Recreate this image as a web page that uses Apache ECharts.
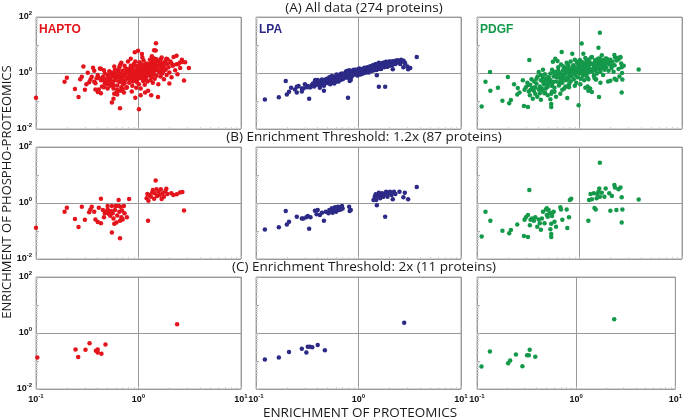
<!DOCTYPE html>
<html><head><meta charset="utf-8">
<script src="https://cdn.jsdelivr.net/npm/echarts@6/dist/echarts.min.js"></script>
<style>html,body{margin:0;padding:0;background:#fff}#c{width:685px;height:420px}</style>
</head><body><div id="c"></div>
<script>
const conditions = ['HAPTO', 'LPA', 'PDGF'];
const rowTitles = ['(A) All data (274 proteins)', '(B) Enrichment Threshold: 1.2x (87 proteins)', '(C) Enrichment Threshold: 2x (11 proteins)'];
const yAxisTitle = 'ENRICHMENT OF PHOSPHO-PROTEOMICS';
const xAxisTitle = 'ENRICHMENT OF PROTEOMICS';
const xTickExps = [-1, 0, 1];
const yTickExps = [-2, 0, 2];

// ---- HAPTO ----
const haptoB = [[0.10,0.13],[0.19,0.49],[0.20,0.68],[0.24,0.27],[0.26,0.14],[0.28,0.74],[0.30,0.25],[0.33,0.47],[0.34,0.59],[0.35,0.74],
[0.37,0.49],[0.38,0.26],[0.40,0.21],[0.41,0.68],[0.43,1.41],[0.43,0.19],[0.45,0.56],[0.46,0.31],[0.47,0.43],[0.49,0.49],
[0.50,0.78],[0.50,0.59],[0.51,0.41],[0.52,0.49],[0.53,0.35],[0.54,0.52],[0.55,0.089],[0.55,0.78],[0.56,0.43],[0.57,0.28],
[0.58,0.18],[0.59,0.56],[0.60,0.78],[0.61,0.20],[0.62,0.36],[0.64,0.78],[0.64,1.28],[0.65,0.49],[0.66,0.23],[0.66,0.055],
[0.67,0.74],[0.68,0.31],[0.69,0.54],[0.70,0.26],[0.72,0.78],[0.73,0.43],[0.77,0.31],[0.81,1.38],
[1.20,1.47],[1.22,2.1],[1.24,0.23],[1.25,1.2],[1.28,1.88],[1.32,1.68],[1.36,2.35],[1.38,2.9],[1.42,1.41],[1.44,2.24],
[1.47,6.3],[1.50,3.1],[1.52,1.78],[1.57,2.5],[1.61,1.94],[1.65,3.1],[1.68,1.38],[1.72,2.24],[1.77,1.68],[1.83,2.7],
[1.87,3.2],[1.91,2.1],[2.09,2.24],[2.19,1.94],[2.36,2.05],[2.54,2.35],[2.68,2.46],[2.78,0.54]];
const haptoExtra = [[0.29,1.70],[0.32,1.02],[0.27,0.60],[0.31,0.40],
[0.36,1.55],[0.37,1.20],[0.39,0.65],[0.41,0.26],[0.42,1.45],[0.38,0.43],[0.45,0.74],[0.44,0.33],[0.47,0.95],[0.48,0.60],[0.46,1.25],[0.49,0.40],[0.43,0.55],[0.50,0.28],[0.40,0.85],
[0.51,0.88],[0.52,1.15],[0.53,0.62],[0.54,0.45],[0.55,1.05],[0.56,0.75],[0.57,0.35],[0.58,0.95],[0.59,1.30],[0.60,0.55],
[0.61,0.82],[0.62,0.25],[0.63,1.10],[0.64,0.68],[0.65,1.60],[0.66,0.48],[0.67,0.92],[0.68,2.30],[0.69,0.60],[0.70,1.20],
[0.71,0.40],[0.72,0.85],[0.73,1.80],[0.74,0.55],[0.75,1.00],[0.76,0.30],[0.77,1.40],[0.78,0.70],[0.79,2.60],[0.80,0.95],
[0.57,0.12],[0.62,0.17],[0.72,0.20],[0.66,1.95],[0.58,1.70],
[0.81,0.45],[0.82,1.25],[0.83,0.72],[0.84,3.20],[0.85,0.58],[0.86,1.05],[0.87,0.35],[0.88,1.55],[0.89,0.85],[0.90,2.10],
[0.91,0.62],[0.92,1.15],[0.93,0.13],[0.94,0.95],[0.95,1.80],[0.96,0.48],[0.97,1.35],[0.98,0.75],[0.99,6.20],[1.00,1.00],
[1.01,0.40],[1.02,2.40],[1.03,0.88],[1.04,1.50],[1.05,0.28],[1.06,1.20],[1.07,0.65],[1.08,4.80],[1.09,1.70],[1.10,0.92],
[1.11,0.52],[1.12,2.80],[1.13,1.30],[1.14,0.78],[1.15,1.95],[1.16,0.20],[1.17,1.10],[1.18,0.60],[1.19,2.20],[1.20,1.40],
[1.01,0.051],[1.05,0.16],[0.86,0.22],[1.15,0.38],[0.95,0.30],[1.09,3.60],[0.92,5.50],[1.03,1.75],[0.88,0.98],[1.18,1.00],
[0.97,0.55],[1.12,0.70],[0.84,1.80],[1.06,2.10],[0.99,1.25],
[1.27,0.85],[1.28,1.60],[1.29,3.00],[1.30,1.10],[1.31,0.55],[1.32,2.00],[1.33,1.30],[1.34,0.70],[1.35,4.00],[1.36,1.00],
[1.37,2.50],[1.38,0.45],[1.39,1.45],[1.40,1.85],[1.41,0.90],[1.42,3.30],[1.43,1.20],[1.44,0.62],[1.45,2.20],[1.46,1.55],
[1.48,11.5],[1.50,0.80],[1.52,1.25],[1.54,2.70],[1.56,0.40],[1.58,1.70],[1.60,1.05],[1.62,2.40],[1.64,0.75],[1.66,1.40],
[1.68,3.60],[1.70,0.95],[1.72,1.90],[1.75,1.15],[1.77,0.60],[1.33,0.16],[1.55,0.14],[1.42,6.50],
[1.80,2.30],[1.84,1.30],[1.88,0.85],[1.92,3.10],[1.96,1.60],[2.00,1.05],[2.05,2.60],[2.10,0.70],[2.15,1.80],[2.20,3.70],
[2.28,1.25],[2.35,4.10],[2.45,2.10],[2.55,1.50],[2.65,3.00],[2.85,2.40],[3.10,1.50],[2.40,0.90],[2.00,0.42],
[0.70,0.78],[0.75,1.45],[0.80,0.62],[0.85,1.30],[0.90,0.80],[0.95,1.15],[1.00,0.66],[1.05,1.45],[1.10,1.10],[1.15,1.60],
[1.20,0.75],[1.25,1.20],[1.30,1.65],[1.35,0.85],[1.40,1.25],[0.78,1.05],[0.88,0.50],[0.98,1.60],[1.08,0.85],[1.18,1.30],
[1.28,2.10],[1.38,1.60],[0.68,0.95],[0.93,2.60],[1.22,0.50],[1.02,1.05],[1.12,1.85],[0.83,0.90]];
const haptoC = [[0.103,0.132],[0.243,0.26],[0.258,0.138],[0.304,0.25],[0.333,0.43],[0.384,0.23],[0.40,0.26],[0.40,0.20],[0.435,0.18],[0.476,0.39],[2.38,2.04]];

// ---- LPA ----
const lpaB = [[0.122,0.112],[0.167,0.135],[0.195,0.52],[0.20,0.17],[0.21,0.215],[0.25,0.325],[0.28,0.28],[0.29,0.28],[0.31,0.31],[0.32,0.34],
[0.33,0.12],[0.34,0.31],[0.376,0.53],[0.39,0.40],[0.40,0.56],[0.42,0.37],[0.44,0.45],[0.46,0.23],[0.48,0.49],[0.51,0.43],
[0.52,0.56],[0.54,0.52],[0.55,0.65],[0.56,0.45],[0.58,0.56],[0.59,0.70],[0.605,0.49],[0.615,0.63],[0.63,0.74],[0.645,0.56],
[0.66,0.70],[0.67,0.59],[0.69,0.78],[0.70,0.63],[0.81,0.74],[0.82,0.52],[0.84,0.56],
[1.40,1.28],[1.44,1.68],[1.47,2.04],[1.49,1.28],[1.51,0.83],[1.55,1.78],[1.58,2.34],[1.63,1.47],[1.66,1.93],[1.70,2.21],
[1.75,1.68],[1.80,2.04],[1.82,0.32],[1.86,2.54],[1.92,1.68],[1.97,2.21],[2.03,2.54],[2.10,1.93],[2.16,1.35],[2.22,2.54],
[2.29,2.1],[2.51,2.54],[2.74,1.59],[2.83,2.34],[3.05,1.35],[3.70,3.72]];
const lpaExtra = [[0.22,0.30],[0.24,0.26],[0.26,0.34],[0.28,0.22],[0.30,0.40],[0.33,0.31],[0.35,0.37],[0.25,0.20],
[0.36,0.42],[0.37,0.33],[0.38,0.46],[0.39,0.38],[0.40,0.50],[0.41,0.43],[0.42,0.36],[0.43,0.52],[0.44,0.40],[0.45,0.47],
[0.46,0.55],[0.47,0.42],[0.48,0.60],[0.49,0.50],[0.50,0.45],[0.38,0.56],[0.42,0.30],[0.46,0.35],[0.50,0.64],[0.44,0.58],
[0.51,0.55],[0.52,0.48],[0.53,0.62],[0.54,0.58],[0.55,0.50],[0.56,0.68],[0.57,0.60],[0.58,0.53],[0.59,0.72],[0.60,0.63],
[0.61,0.57],[0.62,0.75],[0.63,0.66],[0.64,0.60],[0.65,0.80],[0.66,0.70],[0.67,0.62],[0.68,0.77],[0.69,0.68],[0.70,0.85],
[0.52,0.70],[0.55,0.78],[0.58,0.42],[0.61,0.88],[0.64,0.50],[0.67,0.92],[0.70,0.60],[0.53,0.40],[0.57,0.72],[0.60,0.52],
[0.63,0.84],[0.66,0.56],[0.69,0.95],[0.56,0.60],[0.65,0.66],
[0.71,0.74],[0.72,0.88],[0.73,0.80],[0.74,0.70],[0.75,0.95],[0.76,0.82],[0.77,0.76],[0.78,1.00],[0.79,0.86],[0.80,0.78],
[0.81,1.05],[0.82,0.90],[0.83,0.82],[0.84,1.10],[0.85,0.94],[0.86,0.85],[0.87,1.15],[0.88,0.98],[0.89,0.88],[0.90,1.12],
[0.72,0.65],[0.75,1.10],[0.78,0.68],[0.81,1.25],[0.84,0.75],[0.87,0.80],[0.90,1.30],[0.74,0.90],[0.77,1.18],[0.80,0.92],
[0.83,1.00],[0.86,1.20],[0.89,1.02],[0.79,0.13],[0.85,0.72],
[0.91,0.95],[0.92,1.05],[0.93,1.18],[0.94,0.90],[0.95,1.00],[0.96,1.12],[0.97,1.25],[0.98,0.95],[0.99,1.08],[1.00,1.20],
[1.01,0.98],[1.02,1.10],[1.03,1.32],[1.04,1.02],[1.05,1.15],[1.06,0.92],[1.07,1.28],[1.08,1.05],[1.09,1.20],[1.10,1.40],
[1.11,1.10],[1.12,1.25],[1.13,1.00],[1.14,1.35],[1.15,1.18],[1.16,1.45],[1.17,1.12],[1.18,1.30],[1.19,1.05],[1.20,1.50],
[0.94,1.30],[0.98,0.82],[1.02,1.45],[1.06,1.22],[1.10,0.95],[1.14,1.55],[1.18,1.20],[0.96,0.85],[1.00,1.40],[1.04,0.88],
[1.21,1.28],[1.23,1.42],[1.25,1.20],[1.27,1.55],[1.29,1.35],[1.31,1.25],[1.33,1.60],[1.35,1.45],[1.37,1.32],[1.39,1.70],
[1.41,1.50],[1.43,1.38],[1.45,1.80],[1.47,1.55],[1.49,1.42],[1.51,1.90],[1.53,1.62],[1.55,1.48],[1.57,2.00],[1.59,1.70],
[1.22,1.60],[1.26,1.05],[1.30,1.75],[1.34,1.18],[1.38,1.90],[1.42,1.25],[1.46,2.05],[1.50,1.30],[1.54,2.15],[1.58,1.40],
[1.24,1.35],[1.32,1.48],[1.40,1.62],[1.48,1.72],[1.56,1.80],
[1.62,1.55],[1.65,1.95],[1.68,2.20],[1.71,1.72],[1.74,2.05],[1.77,2.35],[1.80,1.85],[1.84,2.15],[1.88,2.45],[1.92,1.95],
[1.96,2.25],[2.00,2.55],[2.05,2.05],[2.10,2.40],[2.15,2.65],[2.20,2.15],[2.25,2.50],[2.30,2.75],[1.66,1.40],[1.78,1.60],
[1.90,1.70],[2.02,1.80],[2.14,1.95],[1.58,0.32],[2.35,2.30],
[2.40,2.85],[2.50,2.35],[2.60,3.00],[2.70,2.60],[2.85,2.20],[3.00,1.70],[2.55,2.10],[2.75,2.75],[3.20,1.50],[2.45,2.60]];
const lpaC = [[0.122,0.112],[0.167,0.132],[0.21,0.21],[0.28,0.275],[0.31,0.20],[0.32,0.32],[0.336,0.325],[0.354,0.31],[0.40,0.37],[0.47,0.24],[2.79,2.34]];

// ---- PDGF ----
const pdgfB = [[0.111,0.063],[0.121,0.49],[0.135,0.23],[0.177,0.103],[0.206,0.083],[0.214,0.109],[0.247,0.17],[0.287,0.066],[0.314,0.061],[0.291,0.25],
[0.30,0.31],[0.314,0.37],[0.324,2.9],[0.328,0.16],[0.333,0.25],[0.344,0.28],[0.359,0.23],[0.37,0.31],[0.387,0.143],[0.40,0.26],
[0.41,0.19],[0.42,0.11],[0.43,0.28],[0.44,0.49],[0.456,0.19],[0.47,0.59],[0.48,0.37],[0.48,0.65],[0.49,0.32],[0.50,0.56],
[0.51,0.43],[0.52,0.115],[0.53,0.18],[0.53,0.078],[0.53,0.061],[0.54,0.34],[0.545,0.45],[0.56,0.49],[0.57,0.215],[0.59,0.143],
[0.65,0.70],[0.66,0.59],[0.68,0.25],[0.75,0.59],[0.76,0.128],[0.79,0.31],[0.805,1.28],[0.83,1.43],
[1.22,0.23],[1.24,1.28],[1.28,2.1],[1.32,1.35],[1.38,2.21],[1.40,0.66],[1.44,0.59],[1.47,1.47],[1.49,2.1],[1.53,2.54],
[1.56,3.3],[1.58,27.5],[1.58,1.68],[1.65,2.34],[1.75,1.68],[1.80,3.3],[1.95,2.21],[2.0,0.53],[2.07,1.78],[2.19,4.4],
[2.22,3.6],[2.29,0.56],[2.40,3.1],[2.51,3.6],[2.58,1.59],[2.62,0.59],[2.58,0.20],[3.78,1.32]];
const pdgfExtra = [[0.134,1.09],[0.20,0.72],[0.16,0.30],[0.23,0.40],[0.26,0.20],[0.28,0.55],[0.25,0.29],
[0.31,0.45],[0.32,0.22],[0.33,0.38],[0.34,0.60],[0.35,0.30],[0.36,0.50],[0.37,0.18],[0.38,0.42],[0.39,0.75],[0.40,1.09],
[0.41,0.33],[0.42,0.55],[0.43,0.24],[0.44,0.68],[0.45,0.40],[0.46,0.90],[0.47,0.28],[0.48,0.52],[0.49,0.16],[0.50,0.72],
[0.35,0.12],[0.42,0.85],[0.46,0.20],[0.38,0.62],[0.44,1.30],
[0.51,0.60],[0.52,0.95],[0.53,0.40],[0.54,1.30],[0.55,2.50],[0.56,0.75],[0.57,0.30],[0.58,3.20],[0.59,1.10],[0.60,0.50],
[0.61,0.85],[0.62,1.60],[0.63,0.36],[0.64,1.00],[0.65,0.65],[0.66,2.00],[0.67,5.60],[0.68,0.45],[0.69,1.25],[0.70,0.80],
[0.71,0.28],[0.72,1.50],[0.73,0.95],[0.74,0.55],[0.75,2.30],[0.76,1.10],[0.77,0.70],[0.78,1.80],[0.79,0.40],[0.80,1.30],
[0.52,0.55],[0.56,1.05],[0.60,0.70],[0.64,0.42],[0.68,0.90],[0.72,0.62],[0.76,1.45],[0.80,0.88],[0.54,0.22],[0.58,0.80],
[0.62,1.20],[0.66,0.52],[0.70,1.70],[0.74,1.15],[0.78,0.58],[0.65,0.18],[0.73,0.33],[0.61,2.70],[0.69,0.62],[0.77,2.00],
[0.81,1.05],[0.82,2.60],[0.83,0.75],[0.84,1.40],[0.85,4.90],[0.86,0.95],[0.87,1.90],[0.88,0.60],[0.89,1.20],[0.90,3.00],
[0.91,0.85],[0.92,1.55],[0.93,0.45],[0.94,1.10],[0.95,2.20],[0.96,0.70],[0.97,1.35],[0.98,0.07],[0.99,1.80],[1.00,0.95],
[1.01,2.90],[1.02,1.20],[1.03,0.62],[1.04,1.65],[1.05,11.2],[1.06,1.00],[1.07,2.40],[1.08,0.80],[1.09,4.90],[1.10,1.45],
[1.11,0.55],[1.12,2.00],[1.13,1.15],[1.14,3.40],[1.15,0.88],[1.16,1.70],[1.17,2.60],[1.18,1.30],[1.19,0.70],[1.20,2.10],
[1.21,1.55],[1.22,3.00],[1.23,1.05],[1.24,1.85],[0.82,0.50],[0.86,1.60],[0.90,0.35],[0.94,2.60],[0.98,1.50],[1.02,0.40],
[1.06,2.00],[1.10,1.20],[1.14,0.30],[1.18,2.80],[1.22,0.60],[0.88,1.05],[0.96,1.20],[1.04,2.30],[1.12,1.50],[1.20,1.20],
[1.26,2.40],[1.28,1.30],[1.30,3.60],[1.32,3.70],[1.34,1.10],[1.36,2.10],[1.38,0.80],[1.40,1.60],[1.42,2.90],[1.44,1.25],
[1.46,2.20],[1.48,0.95],[1.50,1.80],[1.52,3.20],[1.53,8.00],[1.55,0.14],[1.56,1.40],[1.58,2.50],[1.60,1.10],[1.62,1.90],
[1.64,3.00],[1.65,4.30],[1.66,1.50],[1.68,2.30],[1.70,0.85],[1.72,1.70],[1.74,2.80],[1.76,1.30],[1.78,2.10],[1.20,0.33],
[1.27,0.28],[1.32,0.21],[1.45,0.60],[1.60,0.45],[1.38,1.90],
[1.82,1.60],[1.85,3.20],[1.88,2.40],[1.92,1.20],[1.96,2.00],[2.00,3.00],[2.05,1.50],[2.10,2.50],[2.15,1.10],[2.20,1.90],
[2.30,2.80],[2.40,1.40],[2.50,3.70],[2.55,2.20],[2.60,1.00],[2.45,0.75],[2.20,0.62],[1.90,0.50],[2.70,1.80],[2.35,3.40]];
const pdgfC = [[0.111,0.063],[0.135,0.22],[0.206,0.083],[0.216,0.105],[0.247,0.17],[0.287,0.065],[0.32,0.16],[0.333,0.16],[0.34,0.25],[0.387,0.143],[2.42,3.1]];

const colors = ['#e3141b', '#2c2a86', '#14994a'];
const panelData = [
  [haptoB.concat(haptoExtra), lpaB.concat(lpaExtra), pdgfB.concat(pdgfExtra)],
  [haptoB, lpaB, pdgfB],
  [haptoC, lpaC, pdgfC]
];

const colLeft = [36, 256, 477];
const rowTop = [17, 147, 277];
const W = 205, H = 112;
const FONT = '"Open Sans", "Noto Sans", sans-serif';
const TICKFONT = '"Liberation Sans", Arial, sans-serif';

function pow10Label(exps) {
  return function (v) {
    const e = Math.round(Math.log10(v));
    if (exps.indexOf(e) < 0) return '';
    return '{b|10}{s|' + e + '}';
  };
}
const rich = {
  b: { fontSize: 9, fontWeight: 'bold', fontFamily: TICKFONT, color: '#111' },
  s: { fontSize: 6, fontWeight: 'bold', fontFamily: TICKFONT, color: '#111', padding: [0, 0, 7, 0] }
};

const grids = [], xAxes = [], yAxes = [], series = [];
for (let r = 0; r < 3; r++) {
  for (let c = 0; c < 3; c++) {
    const i = r * 3 + c;
    grids.push({ left: colLeft[c], top: rowTop[r], width: W, height: H, show: true, borderColor: '#a8a8a8', borderWidth: 1, containLabel: false });
    xAxes.push({
      type: 'log', logBase: 10, min: 0.1, max: 10, gridIndex: i,
      axisLine: { show: false },
      axisTick: { show: true, inside: true, length: 3, lineStyle: { color: '#b0b0b0' } },
      minorTick: { show: true, splitNumber: 9, length: 2, lineStyle: { color: '#d0d0d0' } },
      splitLine: { show: true, lineStyle: { color: '#999', width: 1 } },
      axisLabel: { show: r === 2, formatter: pow10Label(xTickExps), rich: rich, margin: 4 }
    });
    yAxes.push({
      type: 'log', logBase: 10, min: 0.01, max: 100, gridIndex: i,
      axisLine: { show: false },
      axisTick: { show: true, inside: true, length: 3, lineStyle: { color: '#b0b0b0' } },
      minorTick: { show: true, splitNumber: 9, length: 2, lineStyle: { color: '#d0d0d0' } },
      splitLine: { show: true, lineStyle: { color: ['#999', 'rgba(0,0,0,0)'], width: 1 } },
      axisLabel: { show: c === 0, formatter: pow10Label(yTickExps), rich: rich, margin: 4 }
    });
    series.push({
      type: 'scatter', xAxisIndex: i, yAxisIndex: i, data: panelData[r][c],
      symbol: 'circle', symbolSize: 4.5, itemStyle: { color: colors[c], opacity: 1 },
      animation: false, silent: true
    });
  }
}

const graphic = [];
const titleY = [8, 137, 267];
for (let r = 0; r < 3; r++) {
  graphic.push({ type: 'text', x: 364, y: titleY[r], style: { text: rowTitles[r], fill: '#1a1a1a', font: '13.5px ' + FONT, textAlign: 'center', textVerticalAlign: 'middle', align: 'center', verticalAlign: 'middle' } });
}
for (let c = 0; c < 3; c++) {
  graphic.push({ type: 'text', x: colLeft[c] + 3, y: 30, style: { text: conditions[c], fill: colors[c], font: 'bold 12px ' + TICKFONT, textAlign: 'left', textVerticalAlign: 'middle', align: 'left', verticalAlign: 'middle' } });
}
graphic.push({ type: 'text', x: 7, y: 192, rotation: Math.PI / 2, style: { text: yAxisTitle, fill: '#1a1a1a', font: '13px ' + FONT, textAlign: 'center', textVerticalAlign: 'middle', align: 'center', verticalAlign: 'middle' } });
graphic.push({ type: 'text', x: 360, y: 413, style: { text: xAxisTitle, fill: '#1a1a1a', font: '13.5px ' + FONT, textAlign: 'center', textVerticalAlign: 'middle', align: 'center', verticalAlign: 'middle' } });

const chart = echarts.init(document.getElementById('c'), null, { renderer: 'canvas' });
chart.setOption({ backgroundColor: '#fff', animation: false, grid: grids, xAxis: xAxes, yAxis: yAxes, series: series, graphic: graphic });
</script></body></html>
